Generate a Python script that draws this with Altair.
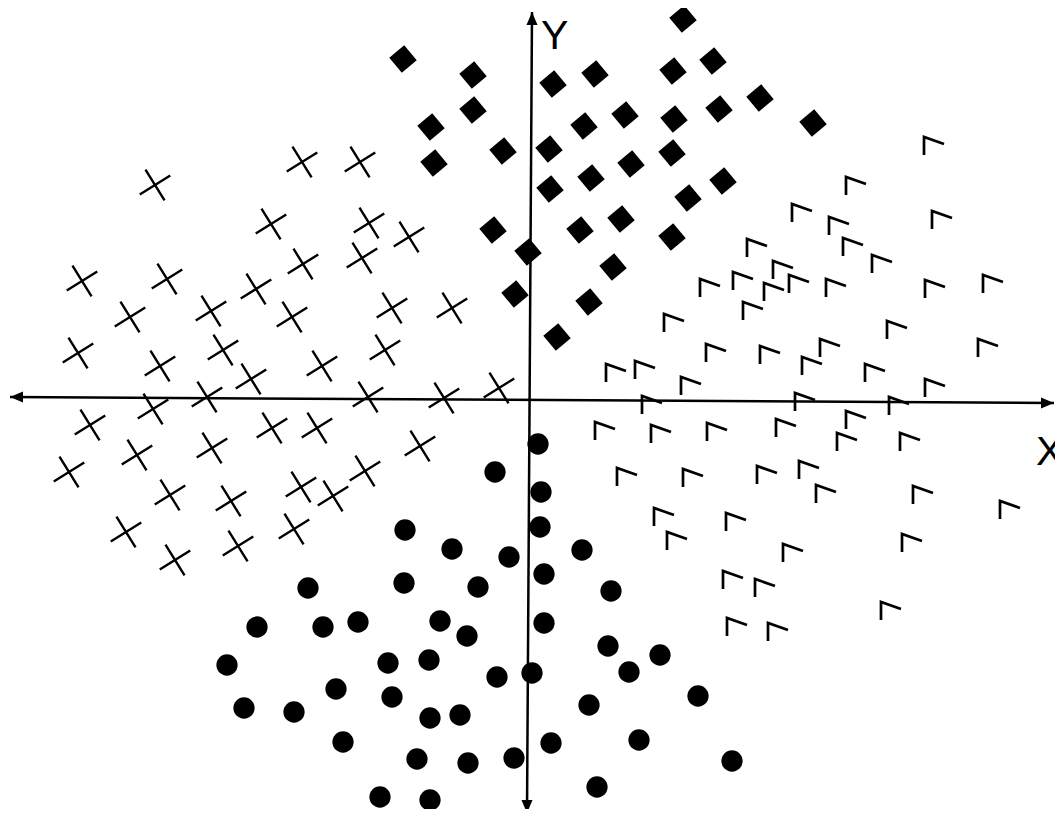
import altair as alt
import pandas as pd

# ---- data (units: origin at the crossing of the axes, y up) ----
circle_x = [8, -35, 11, 10, -125, -78, -21, 52, 14, -222, -126, -52, 81, -273, -207, -172, -90, -63, 14, 78,
            130, -303, -142, -101, -33, 2, 99, -194, -138, 168, -286, -236, -100, -70, 59, -187, 21, 109, -113,
            -62, -16, 202, 67, -150, -100]
circle_y = [-44, -72, -92, -127, -130, -149, -157, -150, -174, -188, -183, -187, -191, -227, -227, -222, -221,
            -236, -223, -246, -255, -265, -263, -260, -277, -273, -272, -289, -297, -296, -308, -312, -318, -315,
            -305, -342, -343, -340, -359, -363, -358, -361, -387, -397, -400]

cross_x = [-375, -228, -170, -259, -161, -121, -227, -168, -448, -363, -274, -400, -319, -238, -138, -78, -452,
           -370, -307, -279, -208, -145, -323, -162, -86, -31, -377, -440, -393, -318, -258, -213, -110, -461,
           -360, -299, -229, -197, -165, -404, -355, -292, -236]
cross_y = [215, 238, 238, 176, 177, 163, 136, 142, 119, 121, 111, 83, 89, 83, 92, 92, 47, 34, 50, 21, 34, 50, 3,
           3, 2, 12, -9, -25, -55, -48, -28, -28, -46, -72, -95, -101, -87, -96, -71, -132, -160, -146, -129]

diamond_x = [153, -127, -57, 23, 65, 143, 183, -57, -99, 54, 95, 144, 189, 230, 283, -96, -27, 19, 101, 142, 61,
             20, 158, 193, -37, -2, 50, 91, 142, 83, -15, 59, 27]
diamond_y = [381, 341, 325, 316, 326, 329, 339, 290, 273, 274, 285, 281, 291, 302, 277, 237, 249, 251, 236, 247,
             222, 211, 202, 219, 170, 148, 170, 181, 163, 133, 106, 98, 63]

corner_x = [394, 316, 262, 402, 299, 217, 313, 342, 243, 203, 259, 170, 296, 395, 453, 234, 213, 134, 357, 176,
            230, 290, 272, 448, 76, 105, 151, 335, 395, 112, 265, 359, 65, 121, 177, 246, 316, 307, 370, 87, 153,
            227, 269, 286, 383, 470, 124, 196, 137, 253, 372, 193, 225, 351, 197, 238]
corner_y = [263, 223, 196, 189, 183, 161, 162, 145, 139, 128, 125, 121, 121, 120, 125, 117, 98, 86, 79, 56, 54,
            61, 43, 61, 36, 39, 23, 36, 21, 4, 7, 3, -22, -25, -23, -19, -11, -33, -33, -68, -69, -66, -61, -85,
            -86, -101, -108, -113, -132, -144, -134, -171, -179, -202, -218, -223]

axis_names = ["X", "Y"]
axis_start_x = [-520, 2]
axis_start_y = [3, 388]
axis_end_x = [524, -3]
axis_end_y = [-3, -413]
axis_label_x = [506, 11]
axis_label_y = [-65, 351]

# ---- tables ----
circles_df = pd.DataFrame({"x": circle_x, "y": circle_y})
crosses_df = pd.DataFrame({"x": cross_x, "y": cross_y})
diamonds_df = pd.DataFrame({"x": diamond_x, "y": diamond_y})
corners_df = pd.DataFrame({"x": corner_x, "y": corner_y})
axes_df = pd.DataFrame({"axis": axis_names, "x": axis_start_x, "y": axis_start_y,
                        "x2": axis_end_x, "y2": axis_end_y})
heads_df = pd.DataFrame({
    "x": axis_start_x + axis_end_x,
    "y": axis_start_y + axis_end_y,
    "angle": [270, 0, 90, 180],
})
labels_df = pd.DataFrame({"x": axis_label_x, "y": axis_label_y, "text": axis_names})

xs = alt.Scale(domain=[-522, 525], nice=False, zero=False)
ys = alt.Scale(domain=[-409, 392], nice=False, zero=False)
X = alt.X("x:Q", scale=xs, axis=None)
Y = alt.Y("y:Q", scale=ys, axis=None)

CROSS = "M-1,0L1,0M0,-1L0,1"
CORNER = "M0,1.8L0,0L2,0.7"
ARROW = "M0,0L-0.85,2L0.85,2Z"

axes_lines = alt.Chart(axes_df).mark_rule(color="black", strokeWidth=2.5).encode(
    x=X, y=Y, x2="x2:Q", y2="y2:Q")

heads = alt.Chart(heads_df).mark_point(shape=ARROW, filled=True, color="black", size=169, opacity=1).encode(
    x=X, y=Y, angle=alt.Angle("angle:Q", scale=None))

circles = alt.Chart(circles_df).mark_circle(color="black", size=452, opacity=1).encode(x=X, y=Y)

crosses = alt.Chart(crosses_df).mark_point(shape=CROSS, filled=False, stroke="black", strokeWidth=2.4,
                                           size=1296, angle=328, opacity=1).encode(x=X, y=Y)

diamonds = alt.Chart(diamonds_df).mark_square(color="black", size=380, angle=50, opacity=1).encode(x=X, y=Y)

corners = alt.Chart(corners_df).mark_point(shape=CORNER, filled=False, stroke="black", strokeWidth=2.7,
                                           size=400, opacity=1).encode(x=X, y=Y)

labels = alt.Chart(labels_df).mark_text(align="left", baseline="alphabetic", fontSize=41,
                                        font="Liberation Sans", color="black").encode(x=X, y=Y, text="text:N")

chart = alt.layer(axes_lines, heads, circles, crosses, diamonds, corners, labels).properties(
    width=1047, height=801, padding=0, autosize=alt.AutoSizeParams(type="none")
).configure_view(stroke=None)

chart.save("out.html", embed_options={"renderer": "svg", "actions": False})
